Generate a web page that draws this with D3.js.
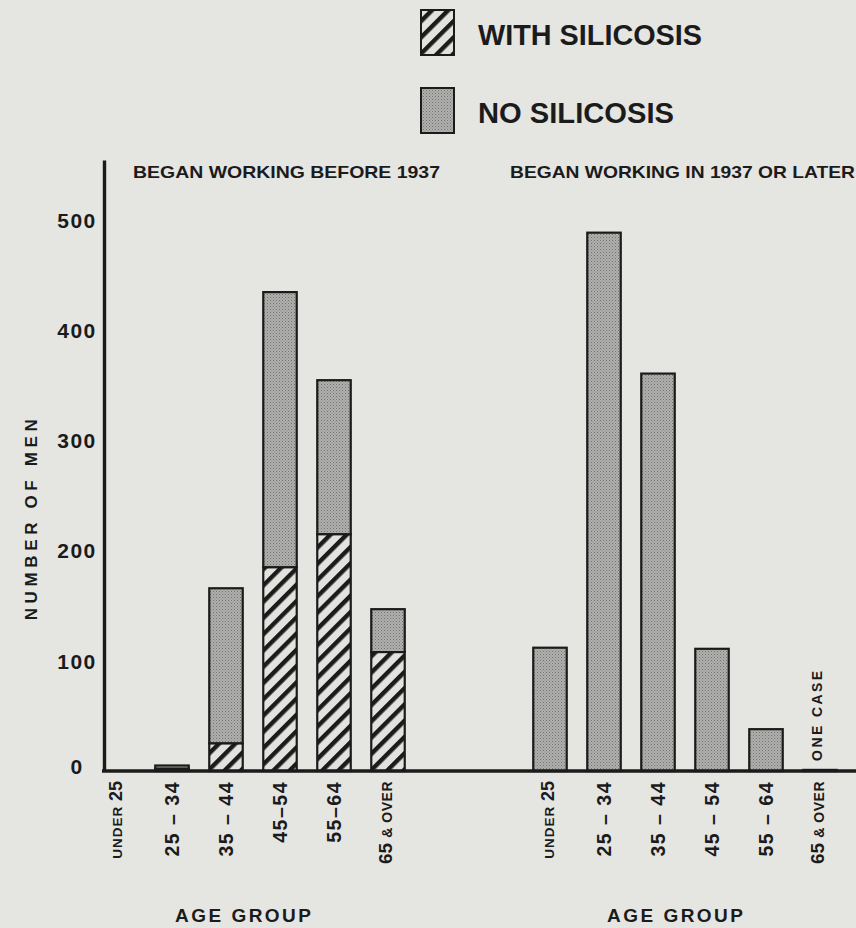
<!DOCTYPE html>
<html><head><meta charset="utf-8">
<script src="https://cdn.jsdelivr.net/npm/d3@7"></script>
<style>
html,body{margin:0;padding:0;background:#e5e5e2;}
svg{display:block;}
text{font-family:"Liberation Sans",Arial,sans-serif;font-weight:bold;fill:#1b1b1b;}
</style></head>
<body>
<svg id="chart" width="856" height="928"></svg>
<script>
// ---- data ----
const ageGroupsBefore = ["UNDER 25", "25 – 34", "35 – 44", "45–54", "55–64", "65 & OVER"];
const ageGroupsLater  = ["UNDER 25", "25 – 34", "35 – 44", "45 – 54", "55 – 64", "65 & OVER"];
const beforeWithSilicosis = [0, 2, 25, 185, 215, 108];
const beforeNoSilicosis   = [0, 3, 141, 250, 140, 39];
const laterWithSilicosis  = [0, 0, 0, 0, 0, 0];
const laterNoSilicosis    = [112, 489, 361, 111, 38, 1];
const yTickValues = [0, 100, 200, 300, 400, 500];
const panelTitles = ["BEGAN WORKING BEFORE 1937", "BEGAN WORKING IN 1937 OR LATER"];
const legendLabels = ["WITH SILICOSIS", "NO SILICOSIS"];

const svg = d3.select("#chart");
const W = 856;
const ink = "#1b1b1b";

// patterns
const defs = svg.append("defs");
const hatch = defs.append("pattern").attr("id", "hatch")
  .attr("patternUnits", "userSpaceOnUse").attr("width", 11.5).attr("height", 11.5)
  .attr("patternTransform", "rotate(45)");
hatch.append("rect").attr("width", 11.5).attr("height", 11.5).attr("fill", "#e2e2df");
hatch.append("rect").attr("x", 0).attr("width", 4.4).attr("height", 11.5).attr("fill", ink);

const stip = defs.append("pattern").attr("id", "stipple")
  .attr("patternUnits", "userSpaceOnUse").attr("width", 3).attr("height", 3);
stip.append("rect").attr("width", 3).attr("height", 3).attr("fill", "#b0b0ae");
stip.append("rect").attr("width", 1).attr("height", 1).attr("fill", "#727270");
stip.append("rect").attr("x", 1.5).attr("y", 1.5).attr("width", 1).attr("height", 1).attr("fill", "#838381");

// scales
const y = d3.scaleLinear().domain([0, 555]).range([771, 160]);
const xBefore = d3.scaleBand().domain(ageGroupsBefore).range([91, 415]).paddingInner(0.38).paddingOuter(0.19);
const xLater  = d3.scaleBand().domain(ageGroupsLater).range([523, 847]).paddingInner(0.38).paddingOuter(0.19);
const yAxisX = 104;

// y axis
const yAxis = svg.append("g").attr("transform", `translate(${yAxisX},0)`)
  .call(d3.axisLeft(y).tickValues(yTickValues).tickSize(0).tickFormat(d3.format("d")));
yAxis.select(".domain").attr("stroke", ink).attr("stroke-width", 3.4);
yAxis.selectAll(".tick text").attr("x", -27).attr("text-anchor", "middle")
  .attr("dy", d => d === 0 ? "0.1em" : "0.34em").style("font-size", "21px").style("letter-spacing", "1.5px")
  .style("font-family", "Liberation Sans, sans-serif").style("font-weight", "bold").attr("fill", ink);

// y axis title
svg.append("text").attr("transform", `translate(37,${y(230)}) rotate(-90)`)
  .attr("text-anchor", "middle").attr("textLength", 205).attr("lengthAdjust", "spacing")
  .style("font-size", "17px").style("letter-spacing", "4px")
  .text("NUMBER OF MEN");

// bars
function drawPanel(x, groups, withVals, noVals) {
  const g = svg.append("g");
  groups.forEach((grp, i) => {
    const w = withVals[i], n = noVals[i];
    if (w + n <= 0) return;
    if (n > 0) {
      g.append("rect").attr("x", x(grp)).attr("width", x.bandwidth())
        .attr("y", y(w + n)).attr("height", y(w) - y(w + n))
        .attr("fill", "url(#stipple)").attr("stroke", ink).attr("stroke-width", 2.2);
    }
    if (w > 0) {
      g.append("rect").attr("x", x(grp)).attr("width", x.bandwidth())
        .attr("y", y(w)).attr("height", y(0) - y(w))
        .attr("fill", "url(#hatch)").attr("stroke", ink).attr("stroke-width", 2.2);
    }
  });
}
drawPanel(xBefore, ageGroupsBefore, beforeWithSilicosis, beforeNoSilicosis);
drawPanel(xLater, ageGroupsLater, laterWithSilicosis, laterNoSilicosis);

// "ONE CASE" note
const lastLater = ageGroupsLater[ageGroupsLater.length - 1];
svg.append("text")
  .attr("transform", `translate(${xLater(lastLater) + xLater.bandwidth() / 2 - 3},${y(laterNoSilicosis[5]) - 9}) rotate(-90)`)
  .attr("text-anchor", "start").attr("dy", "0.35em").attr("textLength", 92).attr("lengthAdjust", "spacing")
  .style("font-size", "14px").style("letter-spacing", "2px")
  .text("ONE CASE");

// x axes
function xAxisFor(x) {
  const g = svg.append("g").attr("transform", `translate(0,${y(0)})`)
    .call(d3.axisBottom(x).tickSize(0));
  g.select(".domain").remove();
  g.selectAll(".tick text").each(function(d) {
    const t = d3.select(this);
    t.text(null).attr("y", 0).attr("x", 0).attr("dy", "0.36em")
      .attr("transform", "translate(0,10) rotate(-90)").attr("text-anchor", "end")
      .style("font-family", "Liberation Sans, sans-serif").style("font-weight", "bold").attr("fill", ink);
    if (d.startsWith("UNDER")) {
      t.append("tspan").style("font-size", "13.5px").style("letter-spacing", "1px").text("UNDER ");
      t.append("tspan").style("font-size", "18px").text("25");
    } else if (d.includes("&")) {
      t.append("tspan").style("font-size", "19px").text("65 ");
      t.append("tspan").style("font-size", "14px").style("letter-spacing", "0.5px").text("& OVER");
    } else {
      t.style("font-size", "19.5px").style("letter-spacing", "1.5px").text(d);
    }
  });
  return g;
}
xAxisFor(xBefore);
xAxisFor(xLater);
// baseline
svg.append("line").attr("x1", yAxisX - 2).attr("x2", W).attr("y1", y(0)).attr("y2", y(0))
  .attr("stroke", ink).attr("stroke-width", 3.4);

// x axis titles
[[xBefore, ageGroupsBefore], [xLater, ageGroupsLater]].forEach(([x, grp]) => {
  const cx = (x(grp[0]) + x(grp[grp.length - 1]) + x.bandwidth()) / 2;
  svg.append("text").attr("x", cx - 8).attr("y", 922).attr("text-anchor", "middle")
    .attr("textLength", 140).attr("lengthAdjust", "spacing")
    .style("font-size", "19px").style("letter-spacing", "4px").text("AGE GROUP");
});

// panel titles
svg.append("text").attr("x", 133).attr("y", 178).attr("textLength", 307).attr("lengthAdjust", "spacingAndGlyphs")
  .style("font-size", "17px").text(panelTitles[0]);
svg.append("text").attr("x", 510).attr("y", 178).attr("textLength", 345).attr("lengthAdjust", "spacingAndGlyphs")
  .style("font-size", "17px").text(panelTitles[1]);

// legend
const legend = svg.append("g");
const legFills = ["url(#hatch)", "url(#stipple)"];
const legY = [10, 88];
legendLabels.forEach((lab, i) => {
  legend.append("rect").attr("x", 421).attr("y", legY[i]).attr("width", 33).attr("height", 45)
    .attr("fill", legFills[i]).attr("stroke", ink).attr("stroke-width", 2);
  legend.append("text").attr("x", 478).attr("y", legY[i] + 35)
    .attr("textLength", i === 0 ? 224 : 196).attr("lengthAdjust", "spacingAndGlyphs")
    .style("font-size", "29px").text(lab);
});
</script>
</body></html>
